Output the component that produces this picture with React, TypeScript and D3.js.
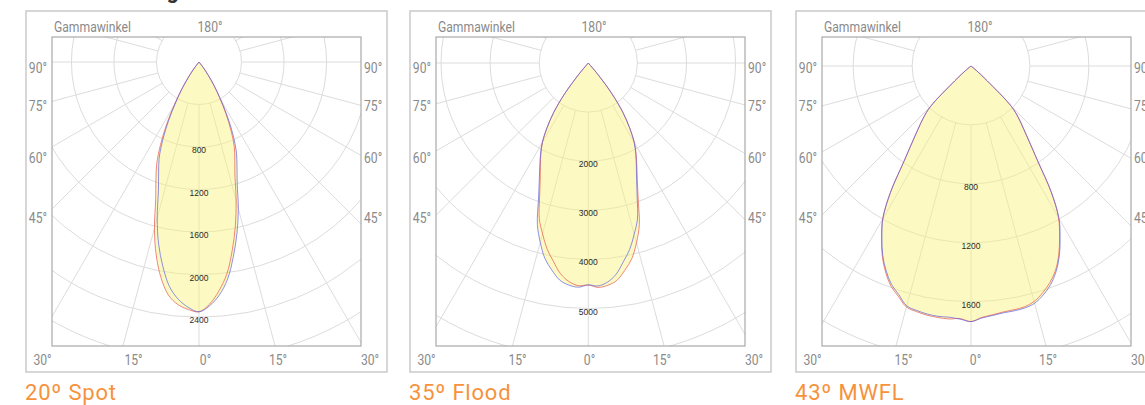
import React from "react";
import * as d3 from "d3";

// ---------- DATA ----------
const gammaSpot = [0, 2.5, 5, 7.5, 10, 12.5, 15, 17.5, 20, 22.5, 25, 27.5, 30, 32.5, 35, 37.5, 40];
const spotC180 = [2350, 2330, 2290, 2210, 2060, 1860, 1620, 1355, 1185, 1040, 855, 655, 460, 305, 172, 75, 0];
const spotC0 = [2350, 2280, 2160, 2010, 1800, 1580, 1350, 1125, 985, 870, 715, 548, 385, 258, 146, 63, 0];
const spotC270 = [2350, 2310, 2240, 2130, 1955, 1755, 1520, 1270, 1110, 980, 805, 617, 433, 290, 163, 71, 0];
const spotC90 = [2350, 2295, 2200, 2060, 1860, 1650, 1430, 1195, 1045, 920, 760, 582, 408, 274, 154, 67, 0];

const gammaFlood = [0, 2.5, 5, 7.5, 10, 12.5, 15, 17.5, 20, 22.5, 25, 27.5, 30, 32.5, 35, 37.5, 40, 42.5];
const floodC180 = [4520, 4540, 4470, 4330, 4100, 3880, 3600, 3320, 2900, 2560, 2310, 2090, 1865, 1560, 1225, 795, 300, 0];
const floodC0 = [4520, 4575, 4545, 4465, 4285, 4085, 3790, 3455, 2975, 2612, 2342, 2112, 1882, 1572, 1232, 802, 302, 0];
const floodC270 = [4520, 4570, 4540, 4460, 4280, 4080, 3780, 3450, 2970, 2610, 2340, 2110, 1880, 1570, 1230, 800, 300, 0];
const floodC90 = [4520, 4545, 4480, 4340, 4110, 3890, 3610, 3330, 2910, 2570, 2315, 2095, 1870, 1562, 1226, 797, 300, 0];

const gammaMwfl = [0, 2.5, 5, 7.5, 10, 12.5, 15, 17.5, 20, 22.5, 25, 27.5, 30, 32.5, 35, 37.5, 40, 42.5, 45, 47.5, 50, 52.5];
const mwflC180 = [1735, 1716, 1724, 1722, 1718, 1708, 1694, 1640, 1590, 1515, 1425, 1315, 1200, 1020, 800, 660, 560, 480, 390, 150, 50, 0];
const mwflC0 = [1735, 1708, 1695, 1684, 1680, 1675, 1655, 1615, 1565, 1500, 1410, 1302, 1188, 1010, 792, 652, 553, 476, 387, 150, 50, 0];
const mwflC270 = [1735, 1720, 1712, 1714, 1710, 1700, 1686, 1628, 1578, 1505, 1418, 1310, 1196, 1017, 798, 658, 558, 479, 389, 150, 50, 0];
const mwflC90 = [1735, 1712, 1700, 1690, 1688, 1683, 1668, 1630, 1580, 1510, 1420, 1310, 1195, 1015, 795, 655, 555, 478, 388, 150, 50, 0];

const spotRingLabels = [800, 1200, 1600, 2000, 2400];
const floodRingLabels = [2000, 3000, 4000, 5000];
const mwflRingLabels = [800, 1200, 1600];

const titles = ["20º Spot", "35º Flood", "43º MWFL"];
const sideTicks = ["90°", "75°", "60°", "45°"];
const bottomTicks = ["30°", "15°", "0°", "15°", "30°"];
const topLeftLabel = "Gammawinkel";
const topCenterLabel = "180°";
const headerText = "Lichtverteilung";

// ---------- LAYOUT ----------
const W = 1145;
const H = 405;
const frameW = 361;
const frameTop = 11;
const frameBottom = 372;
const innerLeft = 26;
const innerRight = 335;
const innerTop = 37;
const innerBottom = 346;
const sideY = [72.7, 111.3, 162.5, 222.7];
const bottomX = [16.5, 107.5, 179.5, 252, 344];
const labelFont = "Roboto, 'Liberation Sans', sans-serif";

type Panel = {
  x: number;
  cx: number;
  cy: number;
  px: number;
  step: number;
  gamma: number[];
  c0: number[];
  c180: number[];
  c90: number[];
  c270: number[];
  rings: number[];
  title: string;
};

const panels: Panel[] = [
  { x: 26, cx: 173, cy: 62, px: 0.1063, step: 400, gamma: gammaSpot, c0: spotC0, c180: spotC180, c90: spotC90, c270: spotC270, rings: spotRingLabels, title: titles[0] },
  { x: 410, cx: 178.3, cy: 63, px: 0.0491, step: 1000, gamma: gammaFlood, c0: floodC0, c180: floodC180, c90: floodC90, c270: floodC270, rings: floodRingLabels, title: titles[1] },
  { x: 796, cx: 175, cy: 66, px: 0.1473, step: 400, gamma: gammaMwfl, c0: mwflC0, c180: mwflC180, c90: mwflC90, c270: mwflC270, rings: mwflRingLabels, title: titles[2] },
];

function CondText(props: { x: number; y: number; anchor?: string; children: React.ReactNode; size?: number }) {
  const { x, y, anchor = "start", children, size = 15 } = props;
  return (
    <text
      transform={`translate(${x},${y}) scale(0.81,1)`}
      textAnchor={anchor as any}
      fontFamily={labelFont}
      fontSize={size}
      fill="#8a8a8a"
    >
      {children}
    </text>
  );
}

function PanelView({ p, idx }: { p: Panel; idx: number }) {
  const maxR = 700;
  const r = d3.scaleLinear().domain([0, 1000]).range([0, 1000 * p.px]);
  const rad = (g: number) => (g * Math.PI) / 180;

  const curvePoints = (left: number[], right: number[]): [number, number][] => {
    const pts: [number, number][] = [];
    for (let i = p.gamma.length - 1; i >= 0; i--) {
      const g = rad(p.gamma[i]);
      pts.push([p.cx - r(left[i]) * Math.sin(g), p.cy + r(left[i]) * Math.cos(g)]);
    }
    for (let i = 1; i < p.gamma.length; i++) {
      const g = rad(p.gamma[i]);
      pts.push([p.cx + r(right[i]) * Math.sin(g), p.cy + r(right[i]) * Math.cos(g)]);
    }
    return pts;
  };
  const line = d3.line<[number, number]>().curve(d3.curveCatmullRom.alpha(0.5));
  const redPath = line(curvePoints(p.c180, p.c0)) || "";
  const bluePath = line(curvePoints(p.c270, p.c90)) || "";

  const ringCount = Math.ceil(maxR / (p.step * p.px));
  const rings = d3.range(1, ringCount + 1).map((k) => r(k * p.step));
  const r0 = r(p.step);
  const spokes = d3.range(0, 360, 15);
  const clipId = `clip${idx}`;

  return (
    <g transform={`translate(${p.x},0)`}>
      <defs>
        <clipPath id={clipId}>
          <rect x={innerLeft} y={innerTop} width={innerRight - innerLeft} height={innerBottom - innerTop} />
        </clipPath>
      </defs>
      <rect x={0} y={frameTop} width={frameW} height={frameBottom - frameTop} fill="#fff" stroke="#c6c6c6" strokeWidth={1.4} />
      <g clipPath={`url(#${clipId})`}>
        {rings.map((rr, i) => (
          <circle key={i} cx={p.cx} cy={p.cy} r={rr} fill="none" stroke="#dcdcdc" strokeWidth={1} />
        ))}
        {spokes.map((a) => {
          const g = rad(a);
          return (
            <line
              key={a}
              x1={p.cx + r0 * Math.sin(g)}
              y1={p.cy + r0 * Math.cos(g)}
              x2={p.cx + maxR * Math.sin(g)}
              y2={p.cy + maxR * Math.cos(g)}
              stroke="#dcdcdc"
              strokeWidth={1}
            />
          );
        })}
        <g opacity={0.45}>
          <path d={redPath} fill="#faf47a" stroke="none" />
          <path d={bluePath} fill="#faf47a" stroke="none" />
        </g>
        <path d={redPath} fill="none" stroke="#e8504a" strokeWidth={0.8} strokeOpacity={0.85} />
        <path d={bluePath} fill="none" stroke="#5a5ae6" strokeWidth={0.8} strokeOpacity={0.85} />
        {p.rings.map((v) => (
          <text
            key={v}
            x={p.cx}
            y={p.cy + r(v) + 3}
            textAnchor="middle"
            dominantBaseline="central"
            fontFamily="'Liberation Sans', Arial, sans-serif"
            fontSize={8.5}
            fill="#2a2a2a"
          >
            {v}
          </text>
        ))}
      </g>
      <rect
        x={innerLeft}
        y={innerTop}
        width={innerRight - innerLeft}
        height={innerBottom - innerTop}
        fill="none"
        stroke="#a9a9a9"
        strokeWidth={1.2}
      />
      <CondText x={28} y={31.7}>{topLeftLabel}</CondText>
      <CondText x={184} y={31.7} anchor="middle">{topCenterLabel}</CondText>
      {sideTicks.map((t, i) => (
        <CondText key={"l" + i} x={21} y={sideY[i]} anchor="end">{t}</CondText>
      ))}
      {sideTicks.map((t, i) => (
        <CondText key={"r" + i} x={innerRight + 3} y={sideY[i]}>{t}</CondText>
      ))}
      {bottomTicks.map((t, i) => (
        <CondText key={"b" + i} x={bottomX[i]} y={364.5} anchor="middle">{t}</CondText>
      ))}
      <text x={-1} y={400} fontFamily="Roboto, 'Open Sans', sans-serif" fontSize={22} letterSpacing={0.8} fill="#f7923c">
        {p.title}
      </text>
    </g>
  );
}

export default function App() {
  return (
    <svg
      width={W}
      height={H}
      viewBox={`0 0 ${W} ${H}`}
      style={{ position: "absolute", left: 0, top: 0, background: "#fff", display: "block" }}
    >
      <rect x={0} y={0} width={W} height={H} fill="#fff" />
      <text x={179} y={-2} textAnchor="end" fontFamily="Roboto, sans-serif" fontWeight={700} fontSize={22} fill="#333">
        {headerText}
      </text>
      {panels.map((p, i) => (
        <PanelView key={i} p={p} idx={i} />
      ))}
    </svg>
  );
}
